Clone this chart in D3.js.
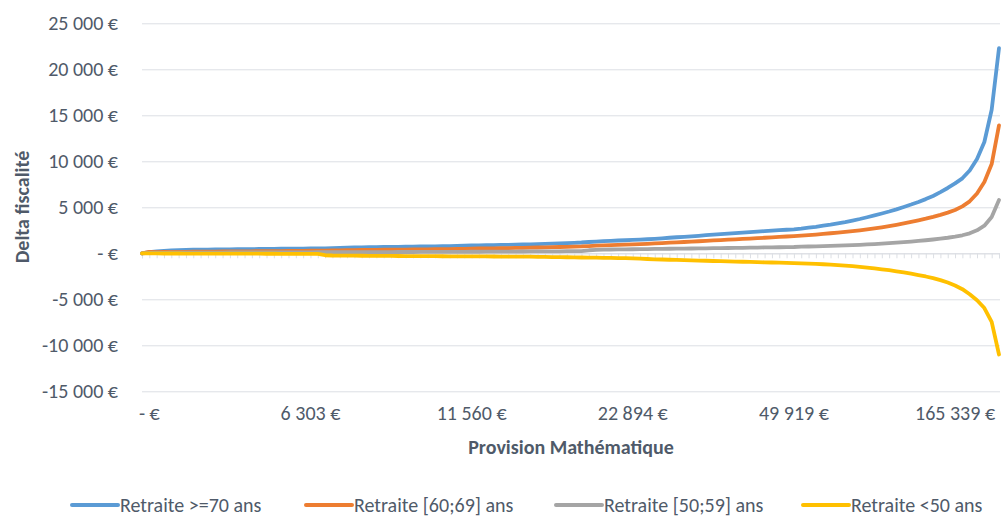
<!DOCTYPE html>
<html>
<head>
<meta charset="utf-8">
<script src="https://cdn.jsdelivr.net/npm/d3@7"></script>
<style>
  html, body { margin: 0; padding: 0; background: #fff; }
  svg text { font-family: Carlito, "Open Sans", Lato, sans-serif; fill: #4f5a69; }
</style>
</head>
<body>
<svg id="chart" width="1001" height="517"></svg>
<script>
// Delta fiscalité per age group, sorted by Provision Mathématique (118 categories)
const seriesNames = ["Retraite >=70 ans", "Retraite [60;69] ans", "Retraite [50;59] ans", "Retraite <50 ans"];
const seriesColors = ["#5B9BD5", "#ED7D31", "#A5A5A5", "#FFC000"];

const retraite70 = [
  0, 120, 210, 270, 310, 340, 365, 385, 400, 410,
  420, 428, 437, 445, 452, 460, 468, 476, 484, 492,
  500, 508, 517, 526, 535, 545, 560, 580, 605, 630,
  648, 662, 675, 686, 697, 707, 717, 727, 737, 747,
  758, 770, 785, 805, 830, 852, 868, 882, 895, 908,
  922, 938, 955, 975, 1000, 1030, 1060, 1085, 1110, 1140,
  1175, 1230, 1280, 1320, 1355, 1390, 1420, 1455, 1490, 1525,
  1570, 1630, 1690, 1745, 1795, 1850, 1905, 1965, 2020, 2075,
  2130, 2185, 2240, 2300, 2360, 2410, 2460, 2510, 2560, 2610,
  2680, 2780, 2880, 3000, 3120, 3260, 3400, 3560, 3730, 3920,
  4120, 4330, 4540, 4780, 5040, 5300, 5580, 5890, 6230, 6650,
  7100, 7600, 8150, 9000, 10250, 12100, 15600, 22300
];
const retraite60 = [
  0, 150, 130, 140, 150, 158, 165, 172, 178, 184,
  190, 196, 202, 208, 214, 220, 226, 232, 238, 244,
  250, 258, 266, 275, 284, 295, 310, 325, 338, 350,
  360, 370, 378, 386, 394, 402, 410, 418, 426, 434,
  442, 450, 460, 472, 488, 505, 520, 533, 546, 558,
  570, 584, 598, 614, 632, 650, 668, 685, 702, 720,
  745, 790, 830, 862, 890, 918, 945, 975, 1005, 1035,
  1070, 1110, 1150, 1190, 1230, 1270, 1310, 1350, 1395, 1440,
  1480, 1520, 1560, 1600, 1640, 1690, 1735, 1780, 1825, 1870,
  1920, 1980, 2040, 2110, 2180, 2250, 2330, 2410, 2500, 2600,
  2710, 2830, 2960, 3100, 3250, 3410, 3580, 3760, 3960, 4180,
  4420, 4700, 5100, 5650, 6500, 7750, 9700, 13900
];
const retraite50 = [
  0, 40, 50, 55, 60, 64, 68, 72, 75, 78,
  81, 84, 87, 90, 92, 94, 96, 98, 100, 102,
  104, 106, 108, 110, 112, 115, 118, 121, 124, 127,
  130, 132, 134, 136, 138, 140, 142, 144, 146, 148,
  150, 152, 155, 158, 162, 166, 170, 174, 178, 182,
  186, 190, 195, 200, 205, 210, 215, 220, 226, 232,
  240, 330, 380, 400, 412, 422, 432, 442, 452, 462,
  472, 482, 492, 502, 512, 522, 532, 543, 554, 565,
  576, 588, 600, 612, 624, 636, 648, 660, 673, 686,
  720, 740, 760, 780, 805, 830, 860, 890, 925, 960,
  1000, 1045, 1095, 1150, 1210, 1275, 1345, 1420, 1500, 1590,
  1690, 1810, 1960, 2170, 2500, 3000, 3950, 5800
];
const retraiteMoins50 = [
  0, -10, -15, -20, -22, -24, -26, -28, -30, -32,
  -34, -36, -38, -40, -42, -44, -46, -48, -50, -52,
  -54, -56, -58, -60, -62, -210, -240, -250, -256, -262,
  -268, -274, -280, -285, -290, -295, -300, -304, -308, -312,
  -316, -320, -324, -328, -332, -336, -340, -344, -348, -352,
  -356, -360, -365, -370, -378, -390, -405, -418, -430, -442,
  -455, -468, -480, -492, -505, -518, -530, -545, -575, -620,
  -650, -675, -700, -722, -745, -768, -790, -812, -835, -858,
  -880, -900, -920, -940, -960, -980, -1000, -1020, -1040, -1060,
  -1085, -1115, -1150, -1190, -1235, -1285, -1340, -1400, -1470, -1550,
  -1640, -1735, -1840, -1955, -2080, -2215, -2360, -2520, -2700, -2920,
  -3180, -3500, -3900, -4450, -5100, -5950, -7450, -11000
];

// Category axis labels (shown every 22 categories)
const xTickIndex = [1, 23, 45, 67, 89, 111];
const xTickLabels = ["- €", "6 303 €", "11 560 €", "22 894 €", "49 919 €", "165 339 €"];

// Value axis ticks
const yTicks = [-15000, -10000, -5000, 0, 5000, 10000, 15000, 20000, 25000];

const allSeries = [retraite70, retraite60, retraite50, retraiteMoins50];

const svg = d3.select("#chart");
svg.append("rect").attr("width", 1001).attr("height", 517).attr("fill", "#fff");

const plotLeft = 142, plotRight = 1000, plotTop = 23.3, plotBottom = 391.3;
const nCat = retraite70.length;
const labelSize = 20;

const x = d3.scalePoint().domain(d3.range(nCat)).range([plotLeft, 999]);
const y = d3.scaleLinear().domain([-15000, 25000]).range([plotBottom, plotTop]);

const fr = d3.formatLocale({ decimal: ",", thousands: "\u00a0", grouping: [3], currency: ["", " €"], minus: "-" });
const fmt = v => v === 0 ? "- €" : fr.format(",.0f")(v) + " €";

// Horizontal gridlines + value labels
const yAxis = svg.append("g")
  .attr("transform", `translate(${plotLeft},0)`)
  .call(d3.axisLeft(y).tickValues(yTicks).tickSize(-(plotRight - plotLeft)).tickPadding(24).tickFormat(fmt));
yAxis.select(".domain").remove();
yAxis.selectAll(".tick line").attr("stroke", "#dcdfe4").attr("stroke-width", 1);
yAxis.selectAll(".tick text").attr("font-size", labelSize).attr("fill", "#4f5a69")
  .style("font-family", "Carlito, 'Open Sans', Lato, sans-serif");

// Category tick marks along the zero line
const xAxis = svg.append("g")
  .attr("transform", `translate(0,${y(0)})`)
  .call(d3.axisBottom(x).tickSize(5).tickFormat(""));
xAxis.select(".domain").attr("stroke", "#dcdfe4");
xAxis.selectAll(".tick line").attr("stroke", "#dcdfe4");

// Category labels below the plot
svg.append("g").selectAll("text")
  .data(xTickIndex)
  .join("text")
  .attr("x", d => x(d))
  .attr("y", 413)
  .attr("text-anchor", "middle")
  .attr("dominant-baseline", "central")
  .attr("font-size", labelSize)
  .text((d, i) => xTickLabels[i]);

// Series lines
const line = d3.line().x((d, i) => x(i)).y(d => y(d));
svg.append("g").selectAll("path")
  .data(allSeries)
  .join("path")
  .attr("d", d => line(d))
  .attr("fill", "none")
  .attr("stroke", (d, i) => seriesColors[i])
  .attr("stroke-width", 3.8)
  .attr("stroke-linejoin", "round")
  .attr("stroke-linecap", "round");

// Axis titles
svg.append("text")
  .attr("transform", "translate(22,207) rotate(-90)")
  .attr("text-anchor", "middle")
  .attr("dominant-baseline", "central")
  .attr("font-size", labelSize)
  .attr("font-weight", "bold")
  .text("Delta fiscalité");

svg.append("text")
  .attr("x", 571)
  .attr("y", 447)
  .attr("text-anchor", "middle")
  .attr("dominant-baseline", "central")
  .attr("font-size", labelSize)
  .attr("font-weight", "bold")
  .text("Provision Mathématique");

// Legend
const legendX = [72, 306, 556, 803];
const legend = svg.append("g").selectAll("g")
  .data(seriesNames)
  .join("g")
  .attr("transform", (d, i) => `translate(${legendX[i]},505)`);
legend.append("line")
  .attr("x1", 0).attr("x2", 46).attr("y1", 0).attr("y2", 0)
  .attr("stroke", (d, i) => seriesColors[i])
  .attr("stroke-width", 4)
  .attr("stroke-linecap", "round");
legend.append("text")
  .attr("x", 48)
  .attr("y", 0)
  .attr("dominant-baseline", "central")
  .attr("font-size", labelSize)
  .text(d => d);
</script>
</body>
</html>
